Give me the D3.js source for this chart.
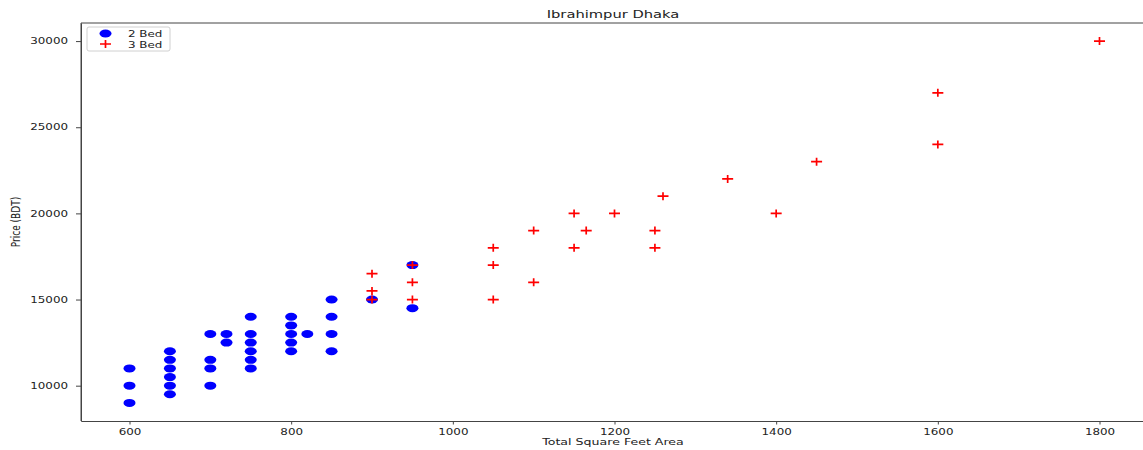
<!DOCTYPE html>
<html lang="en">
<head>
<meta charset="UTF-8">
<title>Ibrahimpur Dhaka</title>
<script src="https://d3js.org/d3.v7.min.js"></script>
<style>
    body { margin: 0; background: #fff; font-family: "DejaVu Sans", sans-serif; }
    .axis text { font-family: "DejaVu Sans", sans-serif; fill: #222; }
    .axis path, .axis line { stroke: #444; }
</style>
</head>
<body>
<svg id="chart" width="1143" height="450"></svg>
<script>
    // 2 bedroom listings
    const twoBedSqft = [600, 600, 600,
        650, 650, 650, 650, 650, 650,
        700, 700, 700, 700,
        720, 720,
        750, 750, 750, 750, 750, 750,
        800, 800, 800, 800, 800,
        820,
        850, 850, 850, 850,
        900,
        950, 950];
    const twoBedPrice = [11000, 10000, 9000,
        12000, 11500, 11000, 10500, 10000, 9500,
        13000, 11500, 11000, 10000,
        13000, 12500,
        14000, 13000, 12500, 12000, 11500, 11000,
        14000, 13500, 13000, 12500, 12000,
        13000,
        15000, 14000, 13000, 12000,
        15000,
        17000, 14500];

    // 3 bedroom listings
    const threeBedSqft = [900, 900, 900, 950, 950, 950, 1050, 1050, 1050,
        1100, 1100, 1150, 1150, 1165, 1200, 1250, 1250, 1260, 1340,
        1400, 1450, 1600, 1600, 1800];
    const threeBedPrice = [16500, 15500, 15000, 17000, 16000, 15000, 18000, 17000, 15000,
        19000, 16000, 20000, 18000, 19000, 20000, 19000, 18000, 21000, 22000,
        20000, 23000, 27000, 24000, 30000];

    const xTicks = [600, 800, 1000, 1200, 1400, 1600, 1800];
    const yTicks = [10000, 15000, 20000, 25000, 30000];

    const sx = 1.4; // picture is stretched horizontally
    const svg = d3.select("#chart");
    const plotLeft = 81, plotRight = 1148, plotTop = 23, plotBottom = 421;

    const x = d3.scaleLinear().domain([540, 1860]).range([plotLeft, plotRight]);
    const y = d3.scaleLinear().domain([7950, 31050]).range([plotBottom, plotTop]);

    // x axis
    const xAxis = svg.append("g")
        .attr("class", "axis")
        .attr("transform", `translate(0,${plotBottom})`)
        .call(d3.axisBottom(x).tickValues(xTicks).tickFormat(d3.format("d"))
            .tickSize(3.5).tickSizeOuter(0).tickPadding(4.5));
    xAxis.selectAll("text")
        .style("font-size", "8.5px")
        .attr("transform", `scale(${sx},1)`);

    // y axis
    const yAxis = svg.append("g")
        .attr("class", "axis")
        .attr("transform", `translate(${plotLeft},0)`)
        .call(d3.axisLeft(y).tickValues(yTicks).tickFormat(d3.format("d"))
            .tickSize(5).tickSizeOuter(0));
    yAxis.selectAll("text")
        .style("font-size", "8.5px")
        .attr("x", -13 / sx)
        .attr("transform", `scale(${sx},1)`);

    // top spine
    svg.append("line")
        .attr("x1", plotLeft).attr("x2", plotRight)
        .attr("y1", plotTop).attr("y2", plotTop)
        .attr("stroke", "#444");
    svg.append("line")
        .attr("x1", plotLeft).attr("x2", plotLeft)
        .attr("y1", plotTop).attr("y2", plotBottom)
        .attr("stroke", "#444");

    // 2 bed points
    svg.append("g").selectAll("ellipse")
        .data(twoBedSqft)
        .enter()
        .append("ellipse")
        .attr("cx", d => x(d))
        .attr("cy", (d, i) => y(twoBedPrice[i]))
        .attr("rx", 6)
        .attr("ry", 4)
        .attr("fill", "#0000ff");

    // 3 bed points
    const plus = (cx, cy) => `M${cx - 5.5},${cy}H${cx + 5.5}M${cx},${cy - 4}V${cy + 4}`;
    svg.append("g").selectAll("path")
        .data(threeBedSqft)
        .enter()
        .append("path")
        .attr("d", (d, i) => plus(x(d), y(threeBedPrice[i])))
        .attr("stroke", "#ff0000")
        .attr("stroke-width", 1.7)
        .attr("fill", "none");

    // title and labels
    svg.append("text")
        .attr("transform", `translate(613,17.5) scale(${sx},1)`)
        .attr("text-anchor", "middle")
        .style("font-size", "10.5px")
        .style("fill", "#222")
        .text("Ibrahimpur Dhaka");

    svg.append("text")
        .attr("transform", `translate(613,445) scale(${sx},1)`)
        .attr("text-anchor", "middle")
        .style("font-size", "9px")
        .style("fill", "#222")
        .text("Total Square Feet Area");

    svg.append("text")
        .attr("transform", `translate(19.5,222) scale(${sx},1) rotate(-90)`)
        .attr("text-anchor", "middle")
        .style("font-size", "9px")
        .style("fill", "#222")
        .text("Price (BDT)");

    // legend
    const legend = svg.append("g").attr("transform", "translate(87,27)");
    legend.append("rect")
        .attr("width", 83)
        .attr("height", 24)
        .attr("rx", 2)
        .attr("fill", "#fff")
        .attr("stroke", "#d0d0d0");
    legend.append("ellipse")
        .attr("cx", 18.5).attr("cy", 6.5)
        .attr("rx", 6).attr("ry", 4)
        .attr("fill", "#0000ff");
    legend.append("path")
        .attr("d", plus(18.5, 17))
        .attr("stroke", "#ff0000")
        .attr("stroke-width", 1.7);
    const legendLabels = ["2 Bed", "3 Bed"];
    legend.selectAll(".lbl")
        .data(legendLabels)
        .enter()
        .append("text")
        .attr("class", "lbl")
        .attr("transform", (d, i) => `translate(41,${9.5 + i * 11}) scale(${sx},1)`)
        .style("font-size", "8.5px")
        .style("fill", "#222")
        .text(d => d);
</script>
</body>
</html>
